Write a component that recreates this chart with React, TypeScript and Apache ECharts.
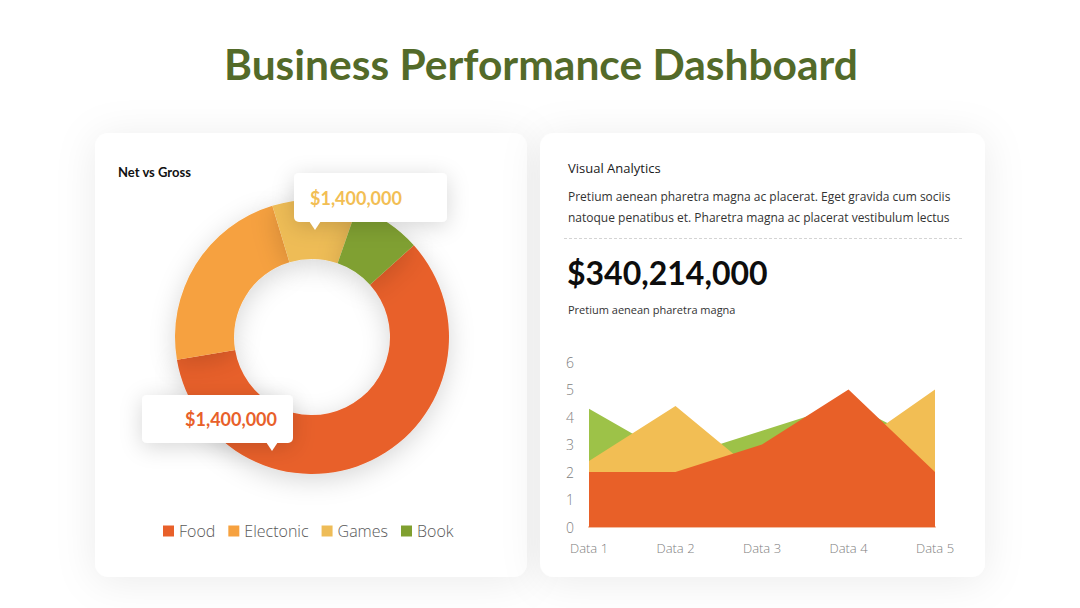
import { useEffect, useRef } from "react";
import * as echarts from "echarts";

// Donut: sales share by category
const pieCategories = ["Food", "Electonic", "Games", "Book"];
const pieValues = [59, 23, 10, 8];
const pieColors = ["#E8602A", "#F6A13F", "#EEBC57", "#80A030"];

// Callout figures shown over the donut
const calloutTopText = "$1,400,000";
const calloutBottomText = "$1,400,000";

// Area chart
const areaCategories = ["Data 1", "Data 2", "Data 3", "Data 4", "Data 5"];
const seriesGreen = [4.3, 2.5, 3.5, 4.5, 2.9];
const seriesYellow = [2.4, 4.4, 1.8, 2.8, 5];
const seriesOrange = [2, 2, 3, 5, 2];
const areaColors = ["#9DC248", "#F2BE54", "#E86028"];
const yMin = 0;
const yMax = 6;
const yInterval = 1;

// Texts
const pageTitle = "Business Performance Dashboard";
const leftCardTitle = "Net vs Gross";
const rightCardTitle = "Visual Analytics";
const paragraphLines = [
  "Pretium aenean pharetra magna ac placerat. Eget gravida cum sociis",
  "natoque penatibus et. Pharetra magna ac placerat vestibulum lectus",
];
const headline = "$340,214,000";
const headlineCaption = "Pretium aenean pharetra magna";

const BOLD_FONT = "Lato, 'Open Sans', sans-serif";
const BODY_FONT = "'Open Sans', 'Noto Sans', sans-serif";

function card(x: number, y: number, w: number, h: number) {
  return {
    type: "rect",
    z: 0,
    shape: { x, y, width: w, height: h, r: 14 },
    style: {
      fill: "#ffffff",
      shadowBlur: 40,
      shadowColor: "rgba(0,0,0,0.08)",
      shadowOffsetY: 4,
    },
  };
}

function callout(
  x: number,
  y: number,
  w: number,
  h: number,
  tipX: number,
  text: string,
  color: string,
  align: "left" | "right"
) {
  return {
    type: "group",
    z: 20,
    children: [
      {
        type: "rect",
        z: 20,
        shape: { x, y, width: w, height: h, r: 5 },
        style: {
          fill: "#ffffff",
          shadowBlur: 22,
          shadowColor: "rgba(0,0,0,0.16)",
          shadowOffsetY: 4,
        },
      },
      {
        type: "polygon",
        z: 21,
        shape: {
          points: [
            [tipX - 6, y + h - 1],
            [tipX + 6, y + h - 1],
            [tipX, y + h + 8],
          ],
        },
        style: { fill: "#ffffff" },
      },
      {
        type: "text",
        z: 22,
        x: align === "left" ? x + 16 : x + w - 16,
        y: y + h / 2,
        style: {
          text,
          fill: color,
          font: `bold 18px ${BOLD_FONT}`,
          align,
          verticalAlign: "middle",
        },
      },
    ],
  };
}

export default function App() {
  const ref = useRef<HTMLDivElement>(null);

  useEffect(() => {
    if (!ref.current) return;
    const chart = echarts.init(ref.current, undefined, { renderer: "svg" });

    const areaSeries = [
      { name: "Series 1", data: seriesGreen, color: areaColors[0] },
      { name: "Series 2", data: seriesYellow, color: areaColors[1] },
      { name: "Series 3", data: seriesOrange, color: areaColors[2] },
    ].map((s) => ({
      type: "line",
      name: s.name,
      data: s.data,
      symbol: "none",
      lineStyle: { width: 0 },
      itemStyle: { color: s.color },
      areaStyle: { color: s.color, opacity: 1 },
      z: 3,
    }));

    chart.setOption({
      animation: false,
      backgroundColor: "#ffffff",
      legend: {
        data: pieCategories,
        left: 158,
        top: 518,
        orient: "horizontal",
        icon: "rect",
        itemWidth: 11,
        itemHeight: 11,
        itemGap: 13,
        textStyle: {
          fontFamily: BODY_FONT,
          fontWeight: 300,
          fontSize: 16,
          color: "#595959",
        },
        selectedMode: false,
      },
      grid: {
        left: 589,
        right: 1080 - 935,
        top: 362,
        bottom: 608 - 527,
        containLabel: false,
      },
      xAxis: {
        type: "category",
        data: areaCategories,
        boundaryGap: false,
        axisLine: { show: true, lineStyle: { color: "#F3BCA0", width: 2 } },
        axisTick: { show: false },
        axisLabel: {
          margin: 14,
          fontFamily: BODY_FONT,
          fontWeight: 300,
          fontSize: 13,
          color: "#808080",
        },
        splitLine: { show: false },
      },
      yAxis: {
        type: "value",
        min: yMin,
        max: yMax,
        interval: yInterval,
        axisLine: { show: false },
        axisTick: { show: false },
        splitLine: { show: false },
        axisLabel: {
          margin: 15,
          fontFamily: BODY_FONT,
          fontWeight: 300,
          fontSize: 14,
          color: "#808080",
        },
      },
      series: [
        {
          type: "pie",
          name: "Net vs Gross",
          center: [312, 337],
          radius: [78, 137],
          startAngle: 42,
          clockwise: true,
          label: { show: false },
          labelLine: { show: false },
          emphasis: { disabled: true },
          itemStyle: {
            shadowBlur: 26,
            shadowColor: "rgba(0,0,0,0.16)",
            shadowOffsetY: 6,
          },
          data: pieCategories.map((name, i) => ({
            name,
            value: pieValues[i],
            itemStyle: { color: pieColors[i] },
          })),
          z: 4,
        },
        ...areaSeries,
      ],
      graphic: [
        card(95, 133, 432, 444),
        card(540, 133, 445, 444),
        {
          type: "text",
          z: 5,
          x: 541,
          y: 63,
          style: {
            text: pageTitle,
            fill: "#536A29",
            font: `bold 42.5px ${BOLD_FONT}`,
            align: "center",
            verticalAlign: "middle",
          },
        },
        {
          type: "text",
          z: 5,
          x: 118,
          y: 172,
          style: {
            text: leftCardTitle,
            fill: "#111111",
            font: `bold 13px ${BOLD_FONT}`,
            align: "left",
            verticalAlign: "middle",
          },
        },
        {
          type: "text",
          z: 5,
          x: 568,
          y: 168,
          style: {
            text: rightCardTitle,
            fill: "#1a1a1a",
            font: `13px ${BODY_FONT}`,
            align: "left",
            verticalAlign: "middle",
          },
        },
        ...paragraphLines.map((line, i) => ({
          type: "text",
          z: 5,
          x: 568,
          y: 196 + i * 21,
          style: {
            text: line,
            fill: "#333333",
            font: `12px ${BODY_FONT}`,
            align: "left",
            verticalAlign: "middle",
          },
        })),
        {
          type: "line",
          z: 5,
          shape: { x1: 564, y1: 238.5, x2: 962, y2: 238.5 },
          style: { stroke: "#d4d4d4", lineWidth: 1, lineDash: [3, 2] },
        },
        {
          type: "text",
          z: 5,
          x: 567,
          y: 272,
          style: {
            text: headline,
            fill: "#0d0d0d",
            font: `bold 32px ${BOLD_FONT}`,
            align: "left",
            verticalAlign: "middle",
          },
        },
        {
          type: "text",
          z: 5,
          x: 568,
          y: 309,
          style: {
            text: headlineCaption,
            fill: "#333333",
            font: `11px ${BODY_FONT}`,
            align: "left",
            verticalAlign: "middle",
          },
        },
        callout(294, 173, 153, 49, 315, calloutTopText, "#F2BE54", "left"),
        callout(142, 395, 151, 48, 272, calloutBottomText, "#E8602A", "right"),
      ],
    });

    return () => chart.dispose();
  }, []);

  return (
    <div
      ref={ref}
      style={{ position: "fixed", left: 0, top: 0, width: 1080, height: 608 }}
    />
  );
}
